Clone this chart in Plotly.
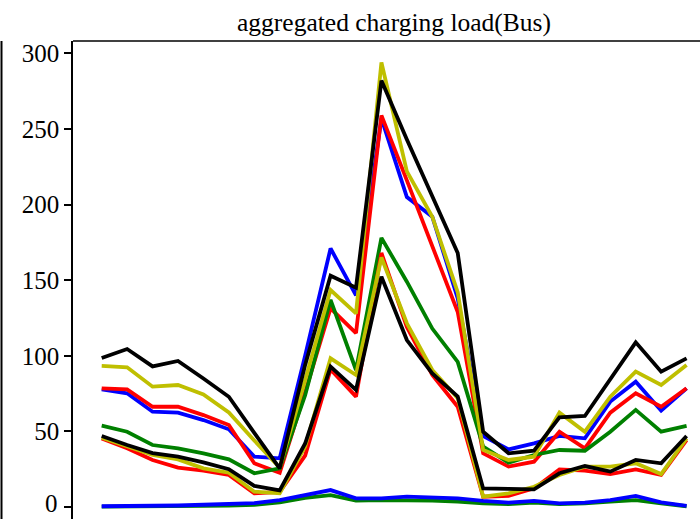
import plotly.graph_objects as go

hours = list(range(24))

blue_u = [77.8, 75.2, 63, 62.4, 57.5, 51.4, 33.3, 32.2, 100, 171, 140, 257, 205, 192, 138, 47, 38.1, 42.1, 47, 45.4, 69.7, 82.9, 63.7, 78.5]
red_u = [78.5, 77.8, 66.3, 66.3, 60.8, 54.2, 28.9, 22.7, 76, 131.4, 115, 259, 216, 172, 129, 35.5, 26.7, 30, 49.8, 38.8, 62.4, 75.2, 66.3, 78.5]
green_u = [53.8, 49.8, 41, 38.8, 35.5, 31.5, 22.3, 25.6, 74, 137, 90.6, 178, 149, 118, 96, 40, 29.3, 34.4, 37.7, 37.2, 49.8, 64.2, 49.8, 53.6]
yellow_u = [93.3, 92.4, 79.6, 80.7, 74.5, 62.5, 44, 26, 84, 143.5, 128, 294, 222, 192, 142, 37.7, 31.1, 33.3, 62.4, 49.8, 73, 89.5, 80.7, 93.9]
black_u = [98.5, 104.5, 93, 96.6, 85, 72.9, 49, 25.6, 94, 153, 145, 282, 243, 205, 168, 49.8, 35.5, 37.2, 59.3, 60.2, 85.1, 108.9, 89.5, 98.3]

red_m = [45.4, 38.8, 31.1, 26, 24, 21.2, 9, 10, 34, 91, 73, 168, 119, 87.3, 66.3, 6.8, 7.3, 12.3, 24.9, 24, 21.8, 24.9, 21.2, 44.3]
yellow_m = [45.8, 39.9, 34.4, 31.5, 25.6, 22.7, 10.1, 9, 40, 98.3, 87.3, 165, 121.5, 90.6, 72, 6.8, 9, 13.4, 21.2, 26.7, 26.7, 28.9, 21.8, 45.4]
black_m = [47, 41, 35.7, 33.3, 29.5, 25, 14, 11, 42, 92.8, 77.4, 152.3, 110.4, 88.4, 73, 12.3, 12, 11.7, 22.3, 27.1, 23.4, 31.1, 28.9, 47]

blue_l = [0.5, 0.5, 0.5, 1, 1.5, 1.8, 2.5, 4.5, 8, 11.2, 5.7, 5.7, 6.8, 6.4, 5.7, 4, 2.9, 4, 2.4, 2.9, 4.6, 7.3, 3.1, 0.7]
green_l = [0.2, 0.2, 0.3, 0.5, 0.8, 1, 1.5, 3, 6, 7.9, 4.2, 4.6, 4.6, 4.2, 3.5, 2.4, 2, 2.9, 2, 2.4, 3.5, 4.6, 2.4, 0.5]

y_ticks = [0, 50, 100, 150, 200, 250, 300]
title_text = "aggregated charging load(Bus)"

series = [
    (blue_u, "#0000ff"), (red_u, "#ff0000"), (green_u, "#008000"),
    (yellow_u, "#bfbf00"), (black_u, "#000000"),
    (green_l, "#008000"), (blue_l, "#0000ff"), (red_m, "#ff0000"),
    (yellow_m, "#bfbf00"), (black_m, "#000000"),
]

fig = go.Figure()
for vals, col in series:
    fig.add_trace(go.Scatter(x=hours, y=vals, mode="lines",
                             line=dict(color=col, width=3.8),
                             showlegend=False, hoverinfo="skip"))

L, T = 73, 41
W, H = 700, 519
px_per_x = 25.43
x0 = -(101.7 - L) / px_per_x
x1 = x0 + (W - L) / px_per_x
px_per_y = 1.512
y1 = (507 - T) / px_per_y
y0 = (507 - H) / px_per_y

font_fam = "Liberation Serif, Times New Roman, serif"
tick_font = dict(family=font_fam, size=25, color="black")

# the lowest tick label would be dropped by plotly at the cut-off edge; draw it as text
bottom_label = y_ticks[0]

fig.update_layout(
    width=W, height=H,
    margin=dict(l=L, r=0, t=T, b=0, pad=0),
    paper_bgcolor="white", plot_bgcolor="white",
    showlegend=False,
    title=dict(text=title_text, x=(394 - L) / (W - L), xref="paper",
               xanchor="center", y=1 - 22 / H, yref="container", yanchor="middle",
               font=dict(family=font_fam, size=25.5, color="black")),
    xaxis=dict(range=[x0, x1], showgrid=False, zeroline=False, showline=False,
               showticklabels=False, ticks=""),
    yaxis=dict(range=[y0, y1], showgrid=False, zeroline=False, showline=True,
               linecolor="black", linewidth=1.5, ticks="outside", ticklen=7,
               tickwidth=1.5, tickcolor="black", tickvals=y_ticks,
               tickfont=tick_font),
    annotations=[
        dict(text=str(bottom_label), xref="paper", yref="y", x=0, y=bottom_label,
             xanchor="right", yanchor="middle", xshift=-13, yshift=4,
             showarrow=False, font=tick_font),
    ],
    shapes=[
        dict(type="line", xref="paper", yref="paper", x0=0, x1=1, y0=1, y1=1,
             line=dict(color="black", width=1.5)),
        dict(type="line", xref="paper", yref="paper",
             x0=(1.5 - L) / (W - L), x1=(1.5 - L) / (W - L), y0=-0.01, y1=1,
             line=dict(color="black", width=2)),
    ],
)

fig.write_html("out.html")
